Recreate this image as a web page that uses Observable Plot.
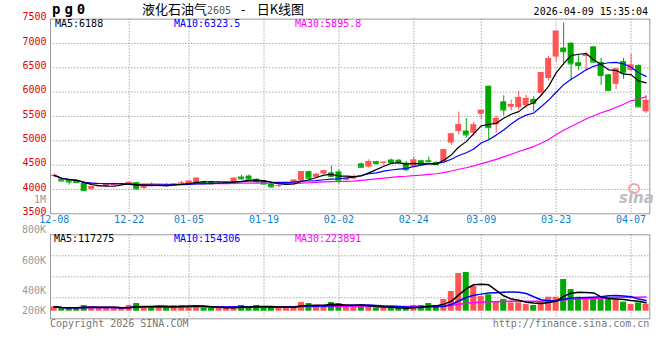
<!DOCTYPE html>
<html><head><meta charset="utf-8">
<script src="https://cdn.jsdelivr.net/npm/d3@7"></script>
<script src="https://cdn.jsdelivr.net/npm/@observablehq/plot@0.6"></script>
<style>
html,body{margin:0;padding:0;background:#fff;}
#wrap{position:relative;width:660px;height:360px;overflow:hidden;background:#fff;font-family:"DejaVu Sans Mono",monospace;}
.t{position:absolute;white-space:nowrap;font-size:10px;line-height:10px;z-index:5;}
#p1,#p2{position:absolute;left:0;}
#p1{top:0}
#p2{top:225px}
</style></head><body>
<div id="wrap">
  <div id="p1"></div>
  <div id="p2"></div>
  <div class="t" style="left:52px;top:2px;font-size:14px;line-height:14px;font-weight:bold;letter-spacing:4px;color:#000">pg0</div>
  <div class="t" style="left:142px;top:2px;font-family:'Noto Sans CJK SC',sans-serif;font-size:13px;line-height:13px;color:#000">液化石油气<span style="font-family:'DejaVu Sans Mono';font-size:10px;color:#555">2605</span><span style="margin-left:10px">-</span><span style="margin-left:11px">日K线图</span></div>
  <div class="t" style="right:12px;top:7px;color:#000">2026-04-09 15:35:04</div>
  <div class="t" id="ma5" style="left:55px;top:19px;color:#000"></div>
  <div class="t" id="ma10" style="left:174px;top:19px;color:#0000ff"></div>
  <div class="t" id="ma30" style="left:295px;top:19px;color:#ff00ff"></div>
  <div class="t" style="right:614px;top:195px;color:#999">1M</div>
  <div class="t" id="vl0" style="right:614px;top:225px;color:#999"></div>
  <div class="t" id="vl1" style="right:614px;top:255.5px;color:#999"></div>
  <div class="t" id="vl2" style="right:614px;top:285.5px;color:#999"></div>
  <div class="t" id="vl3" style="right:614px;top:305.5px;color:#999"></div>
  <div class="t" id="vma5" style="left:54px;top:234px;color:#000"></div>
  <div class="t" id="vma10" style="left:174px;top:234px;color:#0000ff"></div>
  <div class="t" id="vma30" style="left:295px;top:234px;color:#ff00ff"></div>
  <div class="t" style="left:50px;top:318.5px;color:#777">Copyright 2026 SINA.COM</div>
  <div class="t" style="right:10.7px;top:318.5px;color:#777">http://finance.sina.com.cn</div>
  <div class="t" style="left:628px;top:183px;width:8px;height:7px;border:2px solid #f0a8a8;border-radius:50%"></div>
  <div class="t" style="left:619px;top:191px;font-family:'DejaVu Sans';font-weight:bold;font-style:italic;font-size:15px;line-height:15px;color:#bdbdbd">sina</div>
</div>
<script>
const dates = ["12-08","12-09","12-10","12-11","12-12","12-15","12-16","12-17","12-18","12-19",
"12-22","12-23","12-24","12-25","12-26","12-29","12-30","12-31",
"01-05","01-06","01-07","01-08","01-09","01-12","01-13","01-14","01-15","01-16",
"01-19","01-20","01-21","01-22","01-23","01-26","01-27","01-28","01-29","01-30",
"02-02","02-03","02-04","02-05","02-06","02-09","02-10","02-11","02-12","02-13",
"02-24","02-25","02-26","02-27",
"03-02","03-03","03-04","03-05","03-06","03-09","03-10","03-11","03-12","03-13",
"03-16","03-17","03-18","03-19","03-20","03-23","03-24","03-25","03-26","03-27",
"03-30","03-31","04-01","04-02","04-03","04-07","04-08","04-09"];

const open = [4270,4213,4193,4180,4124,4001,4055,4056,4075,4105,
4095,4140,4020,4105,4060,4100,4065,4125,
4095,4140,4160,4160,4115,4120,4150,4255,4275,4210,
4170,4105,4070,4100,4125,4175,4365,4250,4315,4340,
4360,4190,4215,4525,4460,4570,4545,4605,4600,4540,
4460,4590,4590,4555,
4575,4955,5190,5200,5155,5545,6120,5325,5800,5690,
5680,5720,5850,5975,6280,6720,6905,7005,6605,6740,
6930,6610,6355,6160,6625,6445,6545,5595];
const high = [4320,4225,4210,4195,4130,4062,4085,4110,4130,4125,
4150,4145,4090,4135,4095,4125,4115,4170,
4175,4240,4175,4165,4140,4160,4245,4290,4300,4215,
4185,4135,4105,4150,4200,4370,4380,4330,4395,4480,
4400,4235,4300,4545,4610,4580,4565,4625,4620,4575,
4665,4600,4665,4570,
4820,5145,5590,5460,5380,5630,6125,5510,5925,5835,
6020,5938,5905,6405,6735,7255,7420,7010,6760,6820,
6935,6695,6360,6480,6695,6780,6560,5935];
const low = [4250,4160,4090,4125,3970,3995,4050,4050,4065,4095,
4085,3990,4000,4065,4055,4060,4060,4085,
4085,4135,4110,4090,4105,4110,4090,4195,4195,4140,
4100,4035,4035,4095,4120,4170,4215,4215,4305,4250,
4110,4175,4200,4440,4440,4500,4485,4545,4530,4370,
4440,4500,4540,4500,
4570,4905,5120,5055,5090,5430,5020,5155,5510,5610,
5630,5665,5600,5935,6225,6620,6545,6240,6440,6440,
6610,6135,6030,6050,6260,6410,5690,5560];
const close = [4290,4172,4152,4140,3975,4056,4075,4104,4120,4115,
4145,4010,4085,4095,4090,4092,4110,4135,
4170,4230,4140,4115,4125,4150,4230,4215,4210,4155,
4110,4050,4080,4130,4190,4365,4230,4310,4380,4270,
4190,4220,4260,4455,4575,4530,4560,4555,4545,4405,
4605,4510,4570,4510,
4815,5140,5330,5120,5325,5625,5270,5460,5630,5745,
5890,5870,5770,6400,6685,7250,6830,6580,6545,6755,
6615,6340,6035,6475,6390,6555,5695,5830];
const volume = [65000,45000,45000,45000,85000,70000,45000,45000,45000,45000,
85000,115000,70000,45000,70000,70000,85000,85000,
70000,85000,45000,45000,45000,45000,70000,85000,70000,85000,
45000,70000,45000,70000,70000,130000,115000,70000,70000,130000,
115000,70000,70000,85000,70000,45000,45000,45000,45000,45000,
85000,85000,115000,70000,
175000,295000,565000,580000,370000,220000,245000,145000,175000,125000,
125000,100000,85000,135000,210000,210000,475000,325000,210000,185000,
175000,175000,210000,175000,135000,100000,125000,105000];

const priceTicks = [7500,7000,6500,6000,5500,5000,4500,4000,3500];
const priceGrid = [7000,6500,6000,5500,5000,4500,4000];
const dateTicks = ["12-08","12-22","01-05","01-19","02-02","02-24","03-09","03-23","04-07"];
const volTickLabels = ["800K","600K","400K","200K"];
const maTexts = ["MA5:6188","MA10:6323.5","MA30:5895.8"];
const volMaTexts = ["MA5:117275","MA10:154306","MA30:223891"];

const UP = "#ff5555", DOWN = "#00a800";
const GRID = {stroke:"#aaa", strokeDasharray:"1.5,1.5"};
const FONT = "DejaVu Sans Mono";

function movingAvg(vals, k) {
  return vals.map((_, i) => d3.mean(vals.slice(Math.max(0, i - k + 1), i + 1)));
}
const ma5 = movingAvg(close, 5), ma10 = movingAvg(close, 10), ma30 = movingAvg(close, 30);
const vma5 = movingAvg(volume, 5), vma10 = movingAvg(volume, 10), vma30 = movingAvg(volume, 30);

const rows = dates.map((date, i) => ({
  date, open: open[i], high: high[i], low: low[i], close: close[i], vol: volume[i],
  color: close[i] >= open[i] ? UP : DOWN,
  ma5: ma5[i], ma10: ma10[i], ma30: ma30[i],
  vma5: vma5[i], vma10: vma10[i], vma30: vma30[i]
}));

const xScale = {type:"band", domain: dates, paddingInner: 0.2, paddingOuter: 0.1, axis: null};
const gridDates = dateTicks.slice(1);

const p1 = Plot.plot({
  width: 660, height: 232,
  marginLeft: 50, marginRight: 10.7, marginTop: 18.6, marginBottom: 18.7,
  x: xScale,
  y: {domain: [3500, 7500], axis: null},
  color: {type: "identity"},
  style: {background: "transparent", fontFamily: FONT, fontSize: "10px", overflow: "visible"},
  marks: [
    Plot.ruleY(priceGrid, GRID),
    Plot.ruleX(gridDates, GRID),
    Plot.frame({stroke: "#999"}),
    Plot.ruleX(rows, {x: "date", y1: "low", y2: "high", stroke: "color"}),
    Plot.barY(rows, {x: "date", y1: "open", y2: "close", fill: "color"}),
    Plot.tickY(rows, {x: "date", y: "close", stroke: "color"}),
    Plot.lineY(rows, {x: "date", y: "ma30", stroke: "#ff00ff", strokeWidth: 1.2}),
    Plot.lineY(rows, {x: "date", y: "ma10", stroke: "#0000ff", strokeWidth: 1.2}),
    Plot.lineY(rows, {x: "date", y: "ma5", stroke: "#000", strokeWidth: 1.2}),
    Plot.text(priceTicks, {y: d => d, text: d => String(d), frameAnchor: "left", dx: -4, dy: -2, textAnchor: "end", fill: "#e00000", fontFamily: FONT, fontSize: 10}),
    Plot.text(dateTicks, {x: d => d, text: d => d, frameAnchor: "bottom", dy: 9, fill: "#0b84d0", fontFamily: FONT, fontSize: 10})
  ]
});
document.getElementById("p1").appendChild(p1);

const VOL_MIN = -114000, VOL_MAX = 1146000;
const volGrid = [1, 2, 3].map(k => VOL_MIN + k * (VOL_MAX - VOL_MIN) / 4);

const p2 = Plot.plot({
  width: 660, height: 110,
  marginLeft: 50, marginRight: 10.7, marginTop: 9.3, marginBottom: 16.7,
  x: xScale,
  y: {domain: [VOL_MIN, VOL_MAX], axis: null},
  color: {type: "identity"},
  style: {background: "transparent", fontFamily: FONT, fontSize: "10px", overflow: "visible"},
  marks: [
    Plot.ruleY(volGrid, GRID),
    Plot.ruleX(gridDates, GRID),
    Plot.frame({stroke: "#999"}),
    Plot.barY(rows, {x: "date", y: "vol", fill: "color"}),
    Plot.lineY(rows, {x: "date", y: "vma30", stroke: "#ff00ff", strokeWidth: 1.5}),
    Plot.lineY(rows, {x: "date", y: "vma10", stroke: "#0000ff", strokeWidth: 1.5}),
    Plot.lineY(rows, {x: "date", y: "vma5", stroke: "#000", strokeWidth: 1.5})
  ]
});
document.getElementById("p2").appendChild(p2);

["ma5","ma10","ma30"].forEach((id, i) => document.getElementById(id).textContent = maTexts[i]);
["vma5","vma10","vma30"].forEach((id, i) => document.getElementById(id).textContent = volMaTexts[i]);
volTickLabels.forEach((s, i) => document.getElementById("vl" + i).textContent = s);
</script>
</body></html>
